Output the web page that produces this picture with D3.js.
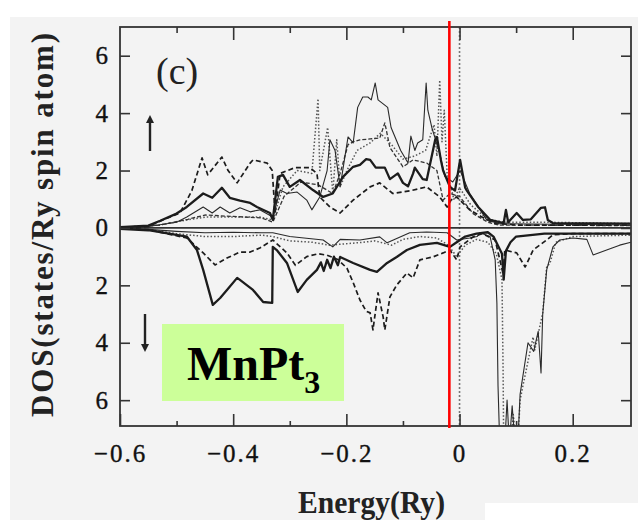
<!DOCTYPE html>
<html>
<head>
<meta charset="utf-8">
<script src="https://cdn.jsdelivr.net/npm/d3@7"></script>
<style>
  html, body { margin: 0; padding: 0; background: #ffffff; }
  svg { display: block; }
  text { font-family: "Liberation Serif", "Times New Roman", serif; }
</style>
</head>
<body>
<svg id="chart" width="638" height="520"></svg>
<script>
// ---- axis settings ----
const energyDomain = [-0.6, 0.303];
const dosDomain = [-6.9, 7.0];
const xMajorTicks = [-0.6, -0.4, -0.2, 0, 0.2];
const xMinorTicks = [-0.5, -0.3, -0.1, 0.1];
const yTicks = [-6, -4, -2, 0, 2, 4, 6];
const fermiMarker = -0.018;

// ---- spin-up DOS curves: [energy (Ry), DOS] ----
const upThick = [[-0.60,0.03],[-0.55,0.08],[-0.529,0.25],[-0.50,0.5],[-0.482,0.73],[-0.453,1.2],[-0.437,1.05],[-0.420,1.4],[-0.406,1.05],[-0.388,0.95],[-0.370,0.87],[-0.358,0.73],[-0.335,0.52],[-0.330,0.28],[-0.321,1.78],[-0.312,1.85],[-0.300,1.43],[-0.282,1.67],[-0.259,1.32],[-0.241,1.08],[-0.224,1.2],[-0.206,1.78],[-0.188,2.13],[-0.176,2.2],[-0.165,2.4],[-0.158,2.37],[-0.148,2.1],[-0.132,2.1],[-0.123,1.7],[-0.109,1.9],[-0.100,1.57],[-0.091,1.45],[-0.082,1.9],[-0.079,2.1],[-0.065,1.7],[-0.058,1.67],[-0.043,3.07],[-0.040,3.17],[-0.033,2.37],[-0.029,2.0],[-0.017,1.43],[-0.008,1.3],[0.001,2.37],[0.010,1.4],[0.013,1.3],[0.033,0.73],[0.054,0.28],[0.078,0.17],[0.082,0.63],[0.086,0.2],[0.101,0.52],[0.112,0.28],[0.126,0.3],[0.144,0.7],[0.151,0.72],[0.156,0.28],[0.165,0.17],[0.303,0.15]];
const upThin = [[-0.60,0.02],[-0.55,0.05],[-0.50,0.2],[-0.482,0.38],[-0.453,0.73],[-0.437,0.52],[-0.423,0.73],[-0.406,0.52],[-0.388,0.7],[-0.370,0.56],[-0.353,0.63],[-0.330,0.38],[-0.317,1.32],[-0.305,1.2],[-0.287,1.25],[-0.270,0.97],[-0.261,0.63],[-0.247,1.08],[-0.234,2.0],[-0.229,3.07],[-0.220,2.7],[-0.211,1.43],[-0.197,3.17],[-0.188,2.96],[-0.180,4.2],[-0.171,4.56],[-0.162,4.56],[-0.156,4.46],[-0.149,5.05],[-0.144,4.46],[-0.127,4.2],[-0.121,3.5],[-0.104,2.7],[-0.091,2.26],[-0.086,3.2],[-0.079,2.7],[-0.074,2.96],[-0.065,3.07],[-0.059,5.05],[-0.056,4.1],[-0.049,3.5],[-0.035,2.6],[-0.026,1.8],[-0.012,1.6],[0.001,2.0],[0.018,1.2],[0.048,0.28],[0.07,0.15],[0.303,0.1]];
const upDashA = [[-0.60,0.0],[-0.55,0.05],[-0.524,0.28],[-0.494,0.52],[-0.473,1.3],[-0.455,2.44],[-0.445,1.85],[-0.420,2.47],[-0.409,2.0],[-0.393,1.57],[-0.370,2.26],[-0.365,2.37],[-0.340,2.26],[-0.331,2.0],[-0.326,0.52],[-0.317,1.9],[-0.291,2.1],[-0.264,2.1],[-0.252,1.9],[-0.247,1.08],[-0.229,0.73],[-0.211,0.52],[-0.188,0.97],[-0.158,1.43],[-0.141,1.57],[-0.118,1.2],[-0.086,1.3],[-0.058,1.43],[-0.035,1.08],[-0.022,0.73],[-0.015,0.97],[-0.005,1.08],[0.018,0.63],[0.038,0.4],[0.06,0.17],[0.1,0.1],[0.303,0.1]];
const upDashB = [[-0.60,0.02],[-0.53,0.1],[-0.48,0.3],[-0.45,0.45],[-0.40,0.4],[-0.35,0.35],[-0.33,0.2],[-0.31,1.1],[-0.28,1.6],[-0.25,1.5],[-0.224,1.2],[-0.211,1.9],[-0.197,2.9],[-0.188,3.0],[-0.176,3.07],[-0.158,3.1],[-0.141,3.13],[-0.132,3.66],[-0.123,2.8],[-0.100,2.13],[-0.082,2.37],[-0.058,2.26],[-0.040,2.0],[-0.029,0.97],[-0.017,1.2],[0.0,1.1],[0.024,0.5],[0.05,0.2],[0.07,0.1],[0.303,0.08]];
const upDot = [[-0.60,0.02],[-0.53,0.1],[-0.482,0.28],[-0.446,0.38],[-0.37,0.38],[-0.353,0.38],[-0.330,0.28],[-0.312,1.43],[-0.287,2.0],[-0.261,1.9],[-0.250,4.5],[-0.247,2.0],[-0.233,3.5],[-0.224,1.2],[-0.217,3.07],[-0.211,1.43],[-0.199,2.0],[-0.181,2.7],[-0.158,2.96],[-0.14,3.3],[-0.12,2.9],[-0.10,2.4],[-0.08,2.5],[-0.06,2.7],[-0.045,3.6],[-0.040,2.5],[-0.035,5.15],[-0.031,3.0],[-0.027,4.1],[-0.022,1.9],[-0.01,1.0],[0.0,1.4],[0.02,0.8],[0.05,0.3],[0.08,0.2],[0.15,0.2],[0.303,0.15]];

// ---- spin-down DOS curves: [energy (Ry), DOS], drawn below zero ----
const dnThick = [[-0.60,0.03],[-0.55,0.08],[-0.529,0.15],[-0.482,0.3],[-0.464,0.77],[-0.453,1.46],[-0.436,2.68],[-0.423,2.44],[-0.411,2.16],[-0.393,1.74],[-0.388,1.81],[-0.376,1.99],[-0.365,2.16],[-0.347,2.58],[-0.331,2.61],[-0.330,0.66],[-0.323,0.77],[-0.305,1.22],[-0.286,2.23],[-0.270,1.81],[-0.252,1.46],[-0.245,1.2],[-0.240,1.5],[-0.234,1.11],[-0.228,1.4],[-0.222,1.0],[-0.215,1.3],[-0.211,1.01],[-0.188,1.22],[-0.158,1.46],[-0.146,1.53],[-0.128,1.22],[-0.111,1.01],[-0.093,0.77],[-0.070,0.59],[-0.040,0.52],[-0.017,0.66],[-0.005,0.5],[0.01,0.3],[0.03,0.2],[0.05,0.15],[0.06,0.3],[0.075,0.9],[0.078,1.8],[0.082,0.8],[0.09,0.5],[0.1,0.3],[0.15,0.2],[0.303,0.2]];
const dnDash = [[-0.60,0.02],[-0.55,0.06],[-0.482,0.35],[-0.453,0.87],[-0.432,1.29],[-0.411,1.05],[-0.388,0.84],[-0.370,0.84],[-0.353,0.7],[-0.330,0.42],[-0.305,0.87],[-0.29,1.3],[-0.27,1.0],[-0.25,0.9],[-0.234,0.95],[-0.215,1.1],[-0.199,1.4],[-0.188,1.9],[-0.176,2.51],[-0.165,2.9],[-0.158,2.96],[-0.153,3.55],[-0.144,2.26],[-0.135,3.1],[-0.132,3.55],[-0.123,2.4],[-0.111,1.99],[-0.093,1.57],[-0.082,1.74],[-0.070,1.11],[-0.047,1.01],[-0.029,0.87],[-0.017,0.77],[-0.005,1.11],[0.001,0.66],[0.024,0.31],[0.04,0.2],[0.063,0.42],[0.077,1.6],[0.080,0.77],[0.101,0.87],[0.116,1.36],[0.130,0.77],[0.154,0.42],[0.165,0.24],[0.2,0.2],[0.303,0.2]];
const dnThin = [[-0.60,0.02],[-0.55,0.05],[-0.50,0.12],[-0.45,0.17],[-0.40,0.15],[-0.35,0.17],[-0.33,0.17],[-0.30,0.3],[-0.241,0.42],[-0.224,0.66],[-0.211,0.4],[-0.176,0.42],[-0.141,0.31],[-0.128,0.52],[-0.088,0.17],[-0.058,0.14],[-0.022,0.17],[-0.005,0.42],[0.018,0.35],[0.031,0.3],[0.036,0.17],[0.054,0.3],[0.063,1.11],[0.066,2.61],[0.068,5.5],[0.071,7.5],[0.080,7.5],[0.084,6.0],[0.088,7.5],[0.093,6.2],[0.098,7.5],[0.103,7.5],[0.107,5.8],[0.121,4.0],[0.131,4.3],[0.139,3.6],[0.144,5.05],[0.147,3.0],[0.154,1.46],[0.165,0.66],[0.177,0.42],[0.200,0.35],[0.225,0.4],[0.236,0.94],[0.260,0.77],[0.283,0.6],[0.303,0.5]];
const dnDot = [[-0.60,0.02],[-0.55,0.06],[-0.50,0.2],[-0.45,0.3],[-0.40,0.3],[-0.35,0.25],[-0.33,0.3],[-0.30,0.45],[-0.26,0.5],[-0.23,0.6],[-0.20,0.55],[-0.17,0.5],[-0.15,0.45],[-0.12,0.6],[-0.10,0.4],[-0.07,0.3],[-0.04,0.35],[-0.02,0.6],[-0.005,1.0],[0.01,0.6],[0.03,0.4],[0.05,0.5],[0.065,0.9],[0.075,1.8],[0.077,5.0],[0.078,7.5],[0.09,7.5],[0.095,6.5],[0.10,7.5],[0.103,7.5],[0.107,6.0],[0.112,5.5],[0.124,4.36],[0.130,3.8],[0.133,4.25],[0.147,2.96],[0.154,1.36],[0.160,1.22],[0.17,0.5],[0.2,0.3],[0.303,0.25]];

const svg = d3.select("#chart");
const W = 638, H = 520;
const pLeft = 120, pRight = 631, pTop = 27, pBottom = 426;

const x = d3.scaleLinear().domain(energyDomain).range([pLeft, pRight]);
const y = d3.scaleLinear().domain(dosDomain).range([pBottom, pTop]);

// page background
svg.append("rect").attr("width", W).attr("height", H).attr("fill", "#ffffff");
svg.append("rect").attr("x", 10).attr("y", 17).attr("width", W - 10).attr("height", H - 17).attr("fill", "#f3f3f3");
svg.append("rect").attr("x", 485).attr("y", 503).attr("width", W - 485).attr("height", 17).attr("fill", "#ffffff");

const defs = svg.append("defs");
defs.append("clipPath").attr("id", "plotClip")
  .append("rect").attr("x", pLeft).attr("y", pTop).attr("width", pRight - pLeft).attr("height", pBottom - pTop);

// Fermi level (dotted) at E = 0
svg.append("line")
  .attr("x1", x(0)).attr("x2", x(0)).attr("y1", pTop).attr("y2", pBottom)
  .attr("stroke", "#777").attr("stroke-width", 1.6).attr("stroke-dasharray", "2,2");

// zero line
svg.append("line")
  .attr("x1", pLeft).attr("x2", pRight).attr("y1", y(0)).attr("y2", y(0))
  .attr("stroke", "#333").attr("stroke-width", 1.8);

const plot = svg.append("g").attr("clip-path", "url(#plotClip)");
const upLine = d3.line().x(d => x(d[0])).y(d => y(d[1]));
const dnLine = d3.line().x(d => x(d[0])).y(d => y(-d[1]));

const styles = {
  thick: { w: 2.3, dash: null, c: "#1c1c1c" },
  thin:  { w: 1.1, dash: null, c: "#2a2a2a" },
  dashA: { w: 1.7, dash: "5,3", c: "#1c1c1c" },
  dashB: { w: 1.3, dash: "4,2", c: "#333" },
  dot:   { w: 1.5, dash: "1.5,2", c: "#555" }
};
const series = [
  { data: upDot, gen: upLine, s: styles.dot },
  { data: upDashB, gen: upLine, s: styles.dashB },
  { data: upDashA, gen: upLine, s: styles.dashA },
  { data: upThin, gen: upLine, s: styles.thin },
  { data: upThick, gen: upLine, s: styles.thick },
  { data: dnDot, gen: dnLine, s: styles.dot },
  { data: dnThin, gen: dnLine, s: styles.thin },
  { data: dnDash, gen: dnLine, s: styles.dashA },
  { data: dnThick, gen: dnLine, s: styles.thick }
];
series.forEach(d => {
  plot.append("path")
    .attr("d", d.gen(d.data))
    .attr("fill", "none")
    .attr("stroke", d.s.c)
    .attr("stroke-width", d.s.w)
    .attr("stroke-linejoin", "round")
    .attr("stroke-dasharray", d.s.dash);
});

// axes
const fmtX = d => d === 0 ? "0" : d3.format(".1f")(d);
function styleAxis(g) {
  g.select(".domain").remove();
  g.selectAll(".tick line").attr("stroke", "#333").attr("stroke-width", 1.6);
  g.selectAll("text").attr("fill", "#111").attr("font-size", 25)
    .attr("stroke", "#111").attr("stroke-width", 0.35)
    .attr("font-family", "'Liberation Serif', 'Times New Roman', serif");
}
svg.append("g").attr("transform", `translate(0,${pBottom})`)
  .call(d3.axisBottom(x).tickValues(xMajorTicks).tickSize(-12).tickPadding(18).tickFormat(fmtX))
  .call(styleAxis)
  .selectAll("text").attr("letter-spacing", 2);
svg.append("g").attr("transform", `translate(0,${pBottom})`)
  .call(d3.axisBottom(x).tickValues(xMinorTicks).tickSize(-5).tickFormat(""))
  .call(styleAxis);
svg.append("g").attr("transform", `translate(0,${pTop})`)
  .call(d3.axisTop(x).tickValues(xMajorTicks.slice(1)).tickSize(-13).tickFormat(""))
  .call(styleAxis);
svg.append("g").attr("transform", `translate(0,${pTop})`)
  .call(d3.axisTop(x).tickValues(xMinorTicks).tickSize(-6).tickFormat(""))
  .call(styleAxis);
svg.append("g").attr("transform", `translate(${pLeft},0)`)
  .call(d3.axisLeft(y).tickValues(yTicks).tickSize(-10).tickPadding(12).tickFormat(d => Math.abs(d)))
  .call(styleAxis);
svg.append("g").attr("transform", `translate(${pRight},0)`)
  .call(d3.axisRight(y).tickValues(yTicks).tickSize(-10).tickFormat(""))
  .call(styleAxis);

// frame
svg.append("rect")
  .attr("x", pLeft).attr("y", pTop).attr("width", pRight - pLeft).attr("height", pBottom - pTop)
  .attr("fill", "none").attr("stroke", "#333").attr("stroke-width", 1.8);

// axis titles
svg.append("text")
  .attr("transform", "translate(53,225) rotate(-90)")
  .attr("text-anchor", "middle")
  .attr("font-size", 31).attr("font-weight", "bold").attr("fill", "#222")
  .attr("textLength", 384).attr("lengthAdjust", "spacing")
  .text("DOS(states/Ry spin atom)");
svg.append("text")
  .attr("x", 298).attr("y", 513)
  .attr("font-size", 31).attr("font-weight", "bold").attr("fill", "#222")
  .attr("textLength", 147).attr("lengthAdjust", "spacingAndGlyphs")
  .text("Energy(Ry)");

// panel label
svg.append("text")
  .attr("x", 156).attr("y", 84)
  .attr("font-size", 38).attr("fill", "#222")
  .text("(c)");

// spin arrows
defs.append("marker").attr("id", "head")
  .attr("viewBox", "0 0 10 10").attr("refX", 5).attr("refY", 5)
  .attr("markerWidth", 12).attr("markerHeight", 8).attr("markerUnits", "userSpaceOnUse")
  .attr("orient", "auto")
  .append("path").attr("d", "M0,0 L10,5 L0,10 Z").attr("fill", "#222");
svg.append("line").attr("x1", 150).attr("x2", 150).attr("y1", 151).attr("y2", 119)
  .attr("stroke", "#222").attr("stroke-width", 2.4).attr("marker-end", "url(#head)");
svg.append("line").attr("x1", 145).attr("x2", 145).attr("y1", 314).attr("y2", 348)
  .attr("stroke", "#222").attr("stroke-width", 2.4).attr("marker-end", "url(#head)");

// compound label box
svg.append("rect").attr("x", 162).attr("y", 324).attr("width", 182).attr("height", 77)
  .attr("fill", "#ccff99");
const lbl = svg.append("text").attr("x", 187).attr("y", 380)
  .attr("font-size", 48).attr("font-weight", "bold").attr("fill", "#000");
lbl.append("tspan").text("MnPt");
lbl.append("tspan").attr("font-size", 32).attr("dy", 13).text("3");

// marker line near the Fermi level
svg.append("line")
  .attr("x1", x(fermiMarker)).attr("x2", x(fermiMarker)).attr("y1", 21).attr("y2", 428)
  .attr("stroke", "#ff0000").attr("stroke-width", 2.6);
</script>
</body>
</html>
